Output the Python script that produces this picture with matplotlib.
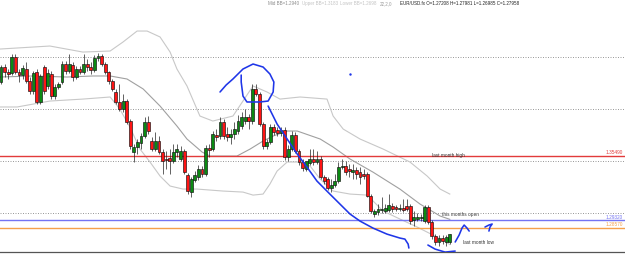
import numpy as np
import matplotlib
matplotlib.use("Agg")
import matplotlib.pyplot as plt

# ---------------- data (EUR/USD candles) ----------------
opens = [
    1.4260, 1.4404, 1.4356, 1.4347, 1.4500, 1.4356, 1.4327, 1.4385, 1.4270, 1.4173,
    1.4356, 1.4068, 1.4404, 1.4222, 1.4337, 1.4125, 1.4212, 1.4260, 1.4433, 1.4366,
    1.4423, 1.4308, 1.4385, 1.4356, 1.4433, 1.4404, 1.4375, 1.4491, 1.4510, 1.4433,
    1.4356, 1.4270, 1.4164, 1.4068, 1.4000, 1.4077, 1.3885, 1.3587, 1.3635, 1.3673,
    1.3741, 1.3875, 1.3693, 1.3616, 1.3693, 1.3587, 1.3520, 1.3529, 1.3500, 1.3587,
    1.3520, 1.3597, 1.3366, 1.3202, 1.3318, 1.3347, 1.3423, 1.3375, 1.3625, 1.3616,
    1.3750, 1.3741, 1.3875, 1.3760, 1.3731, 1.3760, 1.3789, 1.3837, 1.3885, 1.3923,
    1.3885, 1.4193, 1.4145, 1.3856, 1.3645, 1.3683, 1.3827, 1.3798, 1.3770, 1.3798,
    1.3539, 1.3616, 1.3750, 1.3597, 1.3491, 1.3423, 1.3481, 1.3520, 1.3491, 1.3520,
    1.3347, 1.3327, 1.3241, 1.3270, 1.3308, 1.3443, 1.3452, 1.3423, 1.3394, 1.3414,
    1.3394, 1.3375, 1.3375, 1.3164, 1.2991, 1.3010, 1.3029, 1.3020, 1.3029, 1.3068,
    1.3058, 1.3039, 1.3048, 1.3068, 1.3068, 1.2933, 1.2943, 1.2952, 1.2923, 1.3058,
    1.2914, 1.2779, 1.2722, 1.2760, 1.2722, 1.27208]
highs = [
    1.4423, 1.4433, 1.4385, 1.4529, 1.4529, 1.4385, 1.4423, 1.4452, 1.4308, 1.4366,
    1.4385, 1.4337, 1.4423, 1.4385, 1.4366, 1.4241, 1.4260, 1.4462, 1.4462, 1.4529,
    1.4452, 1.4414, 1.4414, 1.4529, 1.4481, 1.4452, 1.4520, 1.4539, 1.4529, 1.4452,
    1.4366, 1.4289, 1.4193, 1.4241, 1.4145, 1.4096, 1.3904, 1.3664, 1.3712, 1.3770,
    1.3923, 1.3933, 1.3731, 1.3779, 1.3741, 1.3616, 1.3597, 1.3616, 1.3664, 1.3664,
    1.3645, 1.3616, 1.3385, 1.3347, 1.3404, 1.3462, 1.3452, 1.3654, 1.3664, 1.3789,
    1.3808, 1.3923, 1.3904, 1.3827, 1.3808, 1.3875, 1.3943, 1.3972, 1.4000, 1.3952,
    1.4241, 1.4241, 1.4164, 1.3875, 1.3712, 1.3856, 1.3856, 1.3827, 1.3827, 1.3827,
    1.3654, 1.3789, 1.3779, 1.3616, 1.3520, 1.3472, 1.3616, 1.3616, 1.3597, 1.3548,
    1.3366, 1.3347, 1.3327, 1.3375, 1.3491, 1.3520, 1.3500, 1.3472, 1.3472, 1.3443,
    1.3443, 1.3423, 1.3394, 1.3183, 1.3039, 1.3087, 1.3154, 1.3087, 1.3183, 1.3097,
    1.3077, 1.3087, 1.3135, 1.3135, 1.3087, 1.3020, 1.3000, 1.2991, 1.3077, 1.3077,
    1.2933, 1.2798, 1.2789, 1.2789, 1.2789, 1.27981]
lows = [
    1.4241, 1.4308, 1.4289, 1.4327, 1.4337, 1.4260, 1.4289, 1.4250, 1.4145, 1.4145,
    1.4048, 1.4048, 1.4145, 1.4193, 1.4096, 1.4096, 1.4193, 1.4241, 1.4337, 1.4347,
    1.4270, 1.4289, 1.4337, 1.4337, 1.4366, 1.4337, 1.4356, 1.4462, 1.4414, 1.4337,
    1.4241, 1.4173, 1.4048, 1.3981, 1.3972, 1.3856, 1.3616, 1.3491, 1.3568, 1.3616,
    1.3721, 1.3760, 1.3597, 1.3597, 1.3568, 1.3375, 1.3423, 1.3375, 1.3481, 1.3539,
    1.3500, 1.3375, 1.3183, 1.3154, 1.3298, 1.3318, 1.3347, 1.3356, 1.3539, 1.3597,
    1.3693, 1.3712, 1.3712, 1.3693, 1.3664, 1.3712, 1.3760, 1.3808, 1.3856, 1.3808,
    1.3856, 1.4125, 1.3837, 1.3616, 1.3616, 1.3664, 1.3750, 1.3741, 1.3741, 1.3510,
    1.3500, 1.3597, 1.3577, 1.3462, 1.3404, 1.3404, 1.3462, 1.3462, 1.3472, 1.3327,
    1.3279, 1.3222, 1.3202, 1.3250, 1.3289, 1.3423, 1.3366, 1.3347, 1.3327, 1.3327,
    1.3279, 1.3327, 1.3154, 1.3000, 1.2962, 1.2981, 1.3000, 1.3000, 1.3010, 1.3010,
    1.3020, 1.3020, 1.3010, 1.3020, 1.2895, 1.2875, 1.2923, 1.2923, 1.2904, 1.2895,
    1.2750, 1.2693, 1.2683, 1.2702, 1.2683, 1.26985]
closes = [
    1.4404, 1.4356, 1.4337, 1.4500, 1.4356, 1.4327, 1.4395, 1.4270, 1.4173, 1.4347,
    1.4068, 1.4318, 1.4173, 1.4347, 1.4125, 1.4212, 1.4241, 1.4433, 1.4366, 1.4433,
    1.4308, 1.4385, 1.4356, 1.4433, 1.4404, 1.4375, 1.4491, 1.4510, 1.4433, 1.4356,
    1.4270, 1.4193, 1.4068, 1.4000, 1.4077, 1.3875, 1.3645, 1.3635, 1.3683, 1.3741,
    1.3875, 1.3789, 1.3616, 1.3693, 1.3587, 1.3500, 1.3510, 1.3500, 1.3587, 1.3616,
    1.3597, 1.3394, 1.3212, 1.3327, 1.3366, 1.3423, 1.3375, 1.3625, 1.3606, 1.3760,
    1.3731, 1.3875, 1.3741, 1.3731, 1.3760, 1.3808, 1.3885, 1.3923, 1.3923, 1.3885,
    1.4193, 1.4145, 1.3856, 1.3645, 1.3683, 1.3827, 1.3779, 1.3770, 1.3798, 1.3539,
    1.3616, 1.3750, 1.3597, 1.3491, 1.3433, 1.3500, 1.3520, 1.3491, 1.3520, 1.3347,
    1.3308, 1.3241, 1.3270, 1.3308, 1.3443, 1.3452, 1.3394, 1.3404, 1.3414, 1.3375,
    1.3347, 1.3356, 1.3164, 1.3020, 1.3020, 1.3039, 1.3039, 1.3048, 1.3077, 1.3039,
    1.3039, 1.3048, 1.3029, 1.3039, 1.2923, 1.2962, 1.2962, 1.2962, 1.3058, 1.2914,
    1.2779, 1.2722, 1.2760, 1.2731, 1.2770, 1.27958]

# Bollinger bands (22, 2): (bar position, price)
upper_x = [-0.3, 13.6, 22.8, 30.4, 34.0, 37.9, 40.7, 44.3, 47.1, 49.0, 51.8, 55.4, 59.0,
           64.6, 70.2, 74.1, 77.7, 83.3, 90.8, 92.5, 95.3, 100.0, 106.4, 113.9, 118.7, 122.3, 125.0]
upper_y = [1.4577, 1.4606, 1.4548, 1.4558, 1.4645, 1.4750, 1.4750, 1.4693, 1.4548, 1.4385,
           1.4222, 1.3933, 1.3885, 1.3933, 1.4222, 1.4164, 1.4096, 1.4116, 1.4096, 1.3933,
           1.3808, 1.3712, 1.3616, 1.3491, 1.3356, 1.3231, 1.3183]
mid_x = [-0.3, 8.9, 18.4, 25.6, 30.4, 35.1, 39.6, 44.3, 49.0, 51.8, 56.0, 58.2, 65.7,
         69.4, 73.0, 75.8, 79.7, 82.5, 88.9, 92.5, 97.2, 103.6, 111.1, 116.7, 122.3, 125.0]
mid_y = [1.4308, 1.4318, 1.4308, 1.4318, 1.4318, 1.4289, 1.4193, 1.4029, 1.3837, 1.3712,
         1.3587, 1.3548, 1.3548, 1.3616, 1.3693, 1.3741, 1.3789, 1.3789, 1.3712, 1.3635,
         1.3520, 1.3394, 1.3231, 1.3087, 1.2972, 1.2940]
lower_x = [-0.3, 4.5, 13.6, 22.8, 30.4, 33.1, 35.9, 38.7, 41.5, 44.3, 47.1, 50.7, 54.6,
           61.8, 67.4, 70.2, 73.0, 74.9, 76.9, 79.7, 82.5, 86.1, 88.9, 92.5, 97.2, 102.0,
           106.4, 111.1, 115.9, 120.3, 125.0]
lower_y = [1.4020, 1.4020, 1.4077, 1.4096, 1.4116, 1.4000, 1.3827, 1.3616, 1.3491, 1.3356,
           1.3260, 1.3231, 1.3231, 1.3212, 1.3202, 1.3173, 1.3183, 1.3279, 1.3404, 1.3491,
           1.3491, 1.3452, 1.3327, 1.3212, 1.3183, 1.3173, 1.3020, 1.2943, 1.2866, 1.2789,
           1.2698]

grid_levels = [1.45, 1.40, 1.35, 1.30]
level_values = [1.35490, 1.29320, 1.28570]
level_labels = ["1.35490", "1.29320", "1.28570"]
level_colors = ["#e23b3b", "#7474f2", "#f5a04a"]
note_texts = ["last month high", "this months open", "last month low"]
note_x = [120.1, 122.8, 128.7]
note_y = [1.3568, 1.3000, 1.2726]

# hand-drawn blue annotation strokes (bar position, price)
stroke_circle_x = [61.0, 62.7, 64.6, 67.4, 70.2, 73.0, 74.9, 76.0, 75.8, 74.4, 72.1, 68.5, 67.4, 66.9, 66.9]
stroke_circle_y = [1.4164, 1.4231, 1.4289, 1.4385, 1.4433, 1.4404, 1.4337, 1.4260, 1.4164, 1.4077,
                   1.4068, 1.4068, 1.4125, 1.4260, 1.4327]
stroke_down_x = [74.4, 76.9, 79.7, 82.5, 85.2, 88.0, 91.6, 94.4, 97.2, 100.0, 103.6, 107.5, 111.1,
                 112.5, 113.4, 113.6]
stroke_down_y = [1.4029, 1.3856, 1.3712, 1.3568, 1.3443, 1.3308, 1.3183, 1.3087, 1.2991, 1.2923,
                 1.2856, 1.2798, 1.2760, 1.2750, 1.2702, 1.2664]
stroke_smile_x = [118.9, 120.9, 123.7, 126.5]
stroke_smile_y = [1.2693, 1.2654, 1.2625, 1.2635]
stroke_arrow1_x = [126.5, 127.6, 128.4, 129.0, 129.8, 130.4]
stroke_arrow1_y = [1.2722, 1.2789, 1.2856, 1.2885, 1.2856, 1.2827]
stroke_arrow2_x = [134.8, 135.9, 136.8, 136.2, 135.9]
stroke_arrow2_y = [1.2866, 1.2885, 1.2895, 1.2866, 1.2827]
dot_x = [97.2]
dot_y = [1.4337]

header_bb = [("Mid BB=1.2940", "#8c8c8c"), ("Upper BB=1.3183", "#c4c4c4"),
             ("Lower BB=1.2698", "#c4c4c4"), ("22,2,0", "#9a9a9a")]
header_quote = "EUR/USD.fx O=1.27208 H=1.27981 L=1.26985 C=1.27958"

# ---------------- drawing ----------------
plt.rcParams["font.family"] = ["Liberation Sans", "DejaVu Sans"]
W, H = 625, 255
fig = plt.figure(figsize=(W / 100, H / 100), dpi=100)
fig.patch.set_facecolor("white")
ax = fig.add_axes([0, 2 / H, 1, 253 / H])
ax.set_xlim(-0.28, 173.8)
ax.set_ylim(1.2626, 1.5058)
ax.set_xticks([])
ax.set_yticks([])
for s in ["top", "left", "right"]:
    ax.spines[s].set_visible(False)
ax.spines["bottom"].set_color("#555555")
ax.spines["bottom"].set_linewidth(0.9)

for g in grid_levels:
    ax.axhline(g, color="#8a8a8a", lw=0.6, ls=(0, (1.2, 1.8)), zorder=1)

ax.plot(upper_x, upper_y, color="#c8c8c8", lw=0.8, zorder=2)
ax.plot(lower_x, lower_y, color="#c8c8c8", lw=0.8, zorder=2)
ax.plot(mid_x, mid_y, color="#a0a0a0", lw=0.8, zorder=2)

for v, c in zip(level_values, level_colors):
    ax.axhline(v, color=c, lw=1.0, zorder=2)

o = np.array(opens); h = np.array(highs); l = np.array(lows); c = np.array(closes)
x = np.arange(len(o))
up = c >= o
ax.vlines(x, l, h, color="#222222", lw=0.5, zorder=3)
body_lo = np.minimum(o, c)
body_h = np.maximum(np.abs(c - o), 0.00025)
ax.bar(x, body_h, bottom=body_lo, width=0.8,
       color=np.where(up, "#0b8a12", "#ff1414"), edgecolor="#111111", linewidth=0.45, zorder=4)

blue = "#1f36e8"
for sx, sy in [(stroke_circle_x, stroke_circle_y), (stroke_down_x, stroke_down_y),
               (stroke_smile_x, stroke_smile_y), (stroke_arrow1_x, stroke_arrow1_y),
               (stroke_arrow2_x, stroke_arrow2_y)]:
    ax.plot(sx, sy, color=blue, lw=1.15, zorder=6, solid_capstyle="round")
ax.plot(dot_x, dot_y, ".", color=blue, ms=1.5, zorder=6)

fs = 3.4
for t, nx, ny in zip(note_texts, note_x, note_y):
    ax.text(nx, ny, t, fontsize=fs, color="#333333", va="center", ha="left", zorder=7,
            bbox=dict(boxstyle="square,pad=0.05", fc="white", ec="none") if t.startswith("this") else None)
for v, lab, col in zip(level_values, level_labels, level_colors):
    ax.annotate(lab, xy=(0.997, v), xycoords=("axes fraction", "data"),
                xytext=(0, 1.2), textcoords="offset points",
                fontsize=fs, color=col, ha="right", va="bottom", zorder=7)

# header line
fig.canvas.draw()
r = fig.canvas.get_renderer()
xpos = 268 / W
ypos = 1 - 4 / H
hfs = 3.25
for txt, col in header_bb:
    t = fig.text(xpos, ypos, txt, fontsize=hfs, color=col, va="center", ha="left")
    bb = t.get_window_extent(renderer=r)
    xpos = (bb.x1 + 2.5) / W
xpos += 6 / W
fig.text(xpos, ypos, header_quote, fontsize=hfs, color="#222222", va="center", ha="left")

fig.savefig("out.png", dpi=100, facecolor="white")
